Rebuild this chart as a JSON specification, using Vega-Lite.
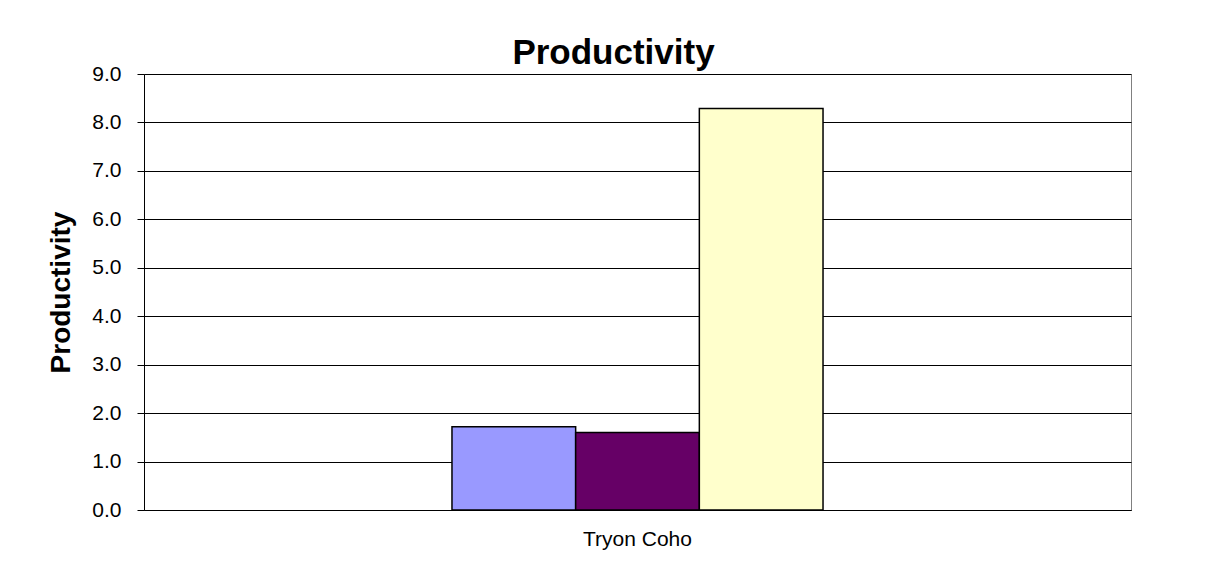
{
  "$schema": "https://vega.github.io/schema/vega-lite/v6.json",
  "autosize": {"type": "none"},
  "width": 987,
  "height": 436,
  "padding": {"left": 144, "top": 74, "right": 79, "bottom": 74},
  "background": "white",
  "config": {
    "view": {"stroke": "#808080", "strokeWidth": 1},
    "font": "Liberation Sans"
  },
  "title": {
    "text": "Productivity",
    "font": "Liberation Sans",
    "fontSize": 35,
    "fontWeight": "bold",
    "color": "black",
    "anchor": "middle",
    "dx": -24,
    "offset": -8
  },
  "data": {
    "values": [
      {"site": "Tryon Coho", "series": "Series 1", "productivity": 1.72},
      {"site": "Tryon Coho", "series": "Series 2", "productivity": 1.6},
      {"site": "Tryon Coho", "series": "Series 3", "productivity": 8.29}
    ]
  },
  "mark": {"type": "bar", "stroke": "black", "strokeWidth": 1.5},
  "encoding": {
    "x": {
      "field": "site",
      "type": "nominal",
      "scale": {"paddingInner": 0, "paddingOuter": 0.83},
      "axis": {
        "title": null,
        "labelAngle": 0,
        "labelFontSize": 21,
        "labelColor": "black",
        "labelPadding": 18,
        "ticks": false,
        "domainColor": "black",
        "domainWidth": 1
      }
    },
    "xOffset": {
      "field": "series",
      "type": "nominal",
      "scale": {"paddingInner": 0, "paddingOuter": 0}
    },
    "y": {
      "field": "productivity",
      "type": "quantitative",
      "scale": {"domain": [0, 9], "nice": false},
      "axis": {
        "title": "Productivity",
        "titleFontSize": 28,
        "titleFontWeight": "bold",
        "titleColor": "black",
        "titlePadding": 16,
        "values": [0, 1, 2, 3, 4, 5, 6, 7, 8, 9],
        "format": ".1f",
        "labelFontSize": 21,
        "labelColor": "black",
        "labelPadding": 16,
        "tickSize": 7,
        "tickColor": "black",
        "domainColor": "black",
        "gridColor": "black",
        "gridWidth": 1,
        "gridOpacity": 1
      }
    },
    "color": {
      "field": "series",
      "type": "nominal",
      "scale": {"range": ["#9999FF", "#660066", "#FFFFCC"]},
      "legend": null
    }
  }
}
